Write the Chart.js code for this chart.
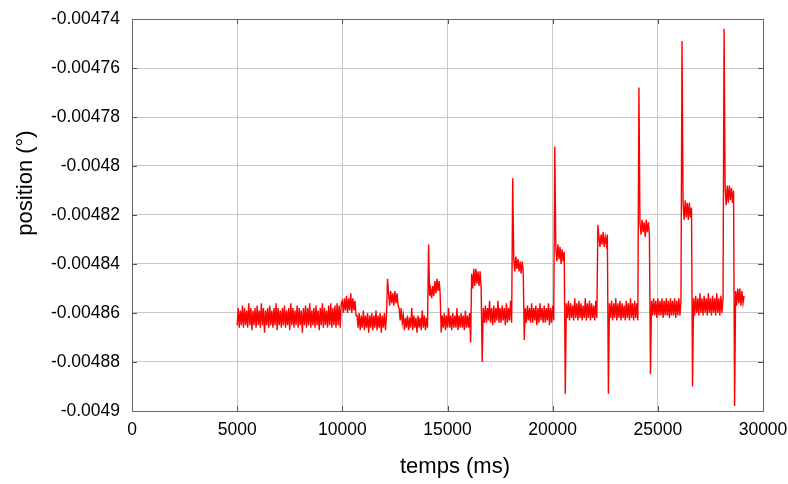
<!DOCTYPE html>
<html>
<head>
<meta charset="utf-8">
<script src="https://cdn.jsdelivr.net/npm/chart.js@4.4.1/dist/chart.umd.min.js"></script>
<style>
  html, body { margin: 0; padding: 0; background: #ffffff; }
  #wrap { width: 788px; height: 484px; position: relative; }
</style>
</head>
<body>
<div id="wrap"><canvas id="c" width="788" height="484"></canvas></div>
<script>
// ---- axis ticks & titles ----
const xTickValues = [0, 5000, 10000, 15000, 20000, 25000, 30000];
const xTickLabels = ["0", "5000", "10000", "15000", "20000", "25000", "30000"];
const yTickValues = [-0.0049, -0.00488, -0.00486, -0.00484, -0.00482, -0.0048, -0.00478, -0.00476, -0.00474];
const yTickLabels = ["-0.0049", "-0.00488", "-0.00486", "-0.00484", "-0.00482", "-0.0048", "-0.00478", "-0.00476", "-0.00474"];
const xTitle = "temps (ms)";
const yTitle = "position (°)";

// ---- measured position (°), sampled every 50 ms, one array per segment ----
const sampleStep = 50;
const segmentStarts = [5000, 10000, 10700, 12150, 12700, 14100, 14700, 16100, 16650, 18100, 18650,
                       20100, 20600, 22150, 22650, 24100, 24650, 26150, 26650, 28150, 28650];

const base1 = [
-0.004865,-0.004858,-0.004866,-0.004859,-0.004865,-0.004857,-0.004866,-0.004858,-0.004865,-0.004859,
-0.004866,-0.004856,-0.004865,-0.004858,-0.004867,-0.004859,-0.004865,-0.004858,-0.004866,-0.004857,
-0.004865,-0.004859,-0.004866,-0.004856,-0.004865,-0.004858,-0.004868,-0.004859,-0.004865,-0.004858,
-0.004866,-0.004857,-0.004865,-0.004859,-0.004866,-0.004858,-0.004865,-0.004856,-0.004867,-0.004858,
-0.004865,-0.004859,-0.004866,-0.004858,-0.004865,-0.004857,-0.004866,-0.004859,-0.004865,-0.004858,
-0.004867,-0.004856,-0.004865,-0.004858,-0.004866,-0.004859,-0.004865,-0.004857,-0.004866,-0.004858,
-0.004865,-0.004859,-0.004868,-0.004858,-0.004865,-0.004857,-0.004866,-0.004858,-0.004865,-0.004856,
-0.004866,-0.004859,-0.004865,-0.004858,-0.004866,-0.004857,-0.004865,-0.004859,-0.004867,-0.004858,
-0.004865,-0.004856,-0.004866,-0.004858,-0.004865,-0.004859,-0.004866,-0.004857,-0.004865,-0.004856,
-0.004866,-0.004858,-0.004865,-0.004857,-0.004866,-0.004856,-0.004865,-0.004857,-0.004866,-0.004856];
const bump1 = [
-0.004855,-0.004860,-0.004854,-0.004859,-0.004853,-0.004860,-0.004854,-0.004859,-0.004852,-0.004860,
-0.004854,-0.004859,-0.004855,-0.004861];
const low1 = [
-0.004861,-0.004866,-0.004860,-0.004867,-0.004861,-0.004866,-0.004859,-0.004867,-0.004861,-0.004866,
-0.004860,-0.004868,-0.004861,-0.004866,-0.004860,-0.004867,-0.004861,-0.004866,-0.004859,-0.004867,
-0.004861,-0.004866,-0.004860,-0.004868,-0.004861,-0.004866,-0.004860,-0.004867,-0.004861];
const platA = [
-0.004846,-0.004852,-0.004857,-0.004851,-0.004856,-0.004852,-0.004857,-0.004851,-0.004856,-0.004852,-0.004857];
const base2 = [
-0.004858,-0.004863,-0.004858,-0.004864,-0.004861,-0.004867,-0.004862,-0.004866,-0.004861,-0.004867,
-0.004862,-0.004866,-0.004858,-0.004867,-0.004861,-0.004866,-0.004862,-0.004868,-0.004861,-0.004866,
-0.004862,-0.004867,-0.004859,-0.004866,-0.004861,-0.004867,-0.004862,-0.004866];
const platB = [
-0.004832,-0.004853,-0.004850,-0.004854,-0.004849,-0.004853,-0.004847,-0.004852,-0.004846,-0.004851,-0.004847,-0.004852];
const base3 = [
-0.004868,-0.004861,-0.004866,-0.004860,-0.004867,-0.004861,-0.004866,-0.004858,-0.004866,-0.004861,
-0.004867,-0.004860,-0.004866,-0.004861,-0.004866,-0.004858,-0.004867,-0.004861,-0.004866,-0.004860,
-0.004866,-0.004861,-0.004867,-0.004859,-0.004866,-0.004861,-0.004866,-0.004860];
const platC = [
-0.004872,-0.004844,-0.004850,-0.004842,-0.004849,-0.004842,-0.004848,-0.004843,-0.004849,-0.004843,-0.004850];
const base4 = [
-0.004880,-0.004858,-0.004864,-0.004857,-0.004864,-0.004858,-0.004863,-0.004855,-0.004864,-0.004858,
-0.004865,-0.004857,-0.004864,-0.004858,-0.004863,-0.004855,-0.004864,-0.004858,-0.004864,-0.004857,
-0.004863,-0.004858,-0.004865,-0.004856,-0.004864,-0.004858,-0.004863,-0.004855,-0.004864];
const platD = [
-0.004805,-0.004838,-0.004843,-0.004837,-0.004842,-0.004838,-0.004843,-0.004839,-0.004844,-0.004839,-0.004843];
const base5 = [
-0.004871,-0.004858,-0.004864,-0.004857,-0.004863,-0.004858,-0.004864,-0.004856,-0.004864,-0.004858,
-0.004863,-0.004857,-0.004865,-0.004858,-0.004864,-0.004856,-0.004863,-0.004858,-0.004864,-0.004857,
-0.004864,-0.004858,-0.004863,-0.004856,-0.004865,-0.004858,-0.004864,-0.004857,-0.004863];
const platE = [
-0.004792,-0.004833,-0.004839,-0.004832,-0.004838,-0.004833,-0.004840,-0.004834,-0.004839,-0.004835];
const base6 = [
-0.004893,-0.004856,-0.004862,-0.004855,-0.004863,-0.004856,-0.004862,-0.004857,-0.004863,-0.004854,
-0.004862,-0.004856,-0.004863,-0.004855,-0.004862,-0.004856,-0.004863,-0.004857,-0.004862,-0.004854,
-0.004863,-0.004856,-0.004862,-0.004855,-0.004863,-0.004856,-0.004862,-0.004857,-0.004863,-0.004855,-0.004862];
const platF = [
-0.004824,-0.004829,-0.004833,-0.004828,-0.004832,-0.004827,-0.004833,-0.004829,-0.004832,-0.004828];
const base7 = [
-0.004893,-0.004856,-0.004862,-0.004855,-0.004863,-0.004856,-0.004862,-0.004854,-0.004863,-0.004856,
-0.004862,-0.004855,-0.004863,-0.004856,-0.004862,-0.004857,-0.004863,-0.004855,-0.004862,-0.004856,
-0.004863,-0.004854,-0.004862,-0.004856,-0.004863,-0.004855,-0.004862,-0.004856,-0.004863];
const platG = [
-0.004768,-0.004823,-0.004828,-0.004822,-0.004827,-0.004823,-0.004829,-0.004822,-0.004827,-0.004823,-0.004828];
const base8 = [
-0.004885,-0.004855,-0.004861,-0.004854,-0.004861,-0.004855,-0.004862,-0.004854,-0.004861,-0.004855,
-0.004861,-0.004854,-0.004862,-0.004855,-0.004861,-0.004854,-0.004861,-0.004855,-0.004862,-0.004854,
-0.004861,-0.004855,-0.004861,-0.004854,-0.004862,-0.004855,-0.004861,-0.004854,-0.004861,-0.004855];
const platH = [
-0.004749,-0.004815,-0.004822,-0.004814,-0.004821,-0.004815,-0.004822,-0.004815,-0.004821,-0.004817];
const base9 = [
-0.004890,-0.004854,-0.004861,-0.004853,-0.004860,-0.004854,-0.004861,-0.004852,-0.004860,-0.004854,
-0.004861,-0.004853,-0.004860,-0.004854,-0.004861,-0.004852,-0.004860,-0.004854,-0.004861,-0.004853,
-0.004860,-0.004854,-0.004861,-0.004852,-0.004860,-0.004854,-0.004861,-0.004853,-0.004860,-0.004854];
const platI = [
-0.004744,-0.004809,-0.004816,-0.004808,-0.004815,-0.004808,-0.004814,-0.004809,-0.004815,-0.004810];
const tail = [
-0.004898,-0.004851,-0.004857,-0.004850,-0.004856,-0.004850,-0.004857,-0.004851,-0.004856,-0.004853];

const segments = [base1, bump1, low1, platA, base2, platB, base3, platC, base4, platD, base5,
                  platE, base6, platF, base7, platG, base8, platH, base9, platI, tail];

const points = [];
segments.forEach((seg, s) => {
  seg.forEach((v, i) => points.push({ x: segmentStarts[s] + i * sampleStep, y: v }));
});

// ---- layout constants ----
const PLOT_LEFT = 132, PLOT_RIGHT = 763, PLOT_TOP = 19, PLOT_BOTTOM = 411;
const TICK_FONT = { family: "'Liberation Sans', Arial, sans-serif", size: 17.5 };
const TITLE_FONT = "22px 'Liberation Sans', Arial, sans-serif";

const zeroPad = s => { s.paddingLeft = 0; s.paddingRight = 0; s.paddingTop = 0; s.paddingBottom = 0; };

const framePlugin = {
  id: 'frame',
  afterDraw(chart) {
    const { ctx, chartArea: a, scales } = chart;
    ctx.save();
    ctx.strokeStyle = '#555555';
    ctx.lineWidth = 1;
    const L = 5;
    ctx.beginPath();
    xTickValues.forEach(v => {
      const px = Math.round(scales.x.getPixelForValue(v)) + 0.5;
      ctx.moveTo(px, a.bottom); ctx.lineTo(px, a.bottom - L);
      ctx.moveTo(px, a.top); ctx.lineTo(px, a.top + L);
    });
    yTickValues.forEach(v => {
      const py = Math.round(scales.y.getPixelForValue(v)) + 0.5;
      ctx.moveTo(a.left, py); ctx.lineTo(a.left + L, py);
      ctx.moveTo(a.right, py); ctx.lineTo(a.right - L, py);
    });
    ctx.stroke();
    ctx.strokeStyle = '#666666';
    ctx.strokeRect(Math.round(a.left) + 0.5, Math.round(a.top) + 0.5,
                   Math.round(a.right - a.left), Math.round(a.bottom - a.top));
    ctx.fillStyle = '#000000';
    ctx.font = TITLE_FONT;
    ctx.textAlign = 'center';
    ctx.textBaseline = 'middle';
    ctx.fillText(xTitle, 455, 467);
    ctx.translate(26, 183);
    ctx.rotate(-Math.PI / 2);
    ctx.fillText(yTitle, 0, 0);
    ctx.restore();
  }
};

new Chart(document.getElementById('c'), {
  type: 'line',
  data: {
    datasets: [{
      data: points,
      borderColor: '#ff0000',
      borderWidth: 1.4,
      pointRadius: 0,
      tension: 0,
      fill: false
    }]
  },
  options: {
    responsive: false,
    animation: false,
    layout: { padding: { left: 0, top: PLOT_TOP, right: 788 - PLOT_RIGHT, bottom: 0 } },
    plugins: { legend: { display: false }, tooltip: { enabled: false } },
    scales: {
      x: {
        type: 'linear',
        min: 0, max: 30000,
        afterBuildTicks: s => { s.ticks = xTickValues.map(v => ({ value: v })); },
        afterFit: s => { s.height = 484 - PLOT_BOTTOM; zeroPad(s); },
        ticks: {
          color: '#000000', font: TICK_FONT, padding: 9, maxRotation: 0,
          callback: (v, i) => xTickLabels[i]
        },
        grid: { color: '#c8c8c8', lineWidth: 1, drawTicks: false },
        border: { display: false }
      },
      y: {
        type: 'linear',
        min: -0.0049, max: -0.00474,
        afterBuildTicks: s => { s.ticks = yTickValues.map(v => ({ value: v })); },
        afterFit: s => { s.width = PLOT_LEFT; zeroPad(s); },
        ticks: {
          color: '#000000', font: TICK_FONT, padding: 12,
          callback: (v, i) => yTickLabels[i]
        },
        grid: { color: '#c8c8c8', lineWidth: 1, drawTicks: false },
        border: { display: false }
      }
    }
  },
  plugins: [framePlugin]
});
</script>
</body>
</html>
